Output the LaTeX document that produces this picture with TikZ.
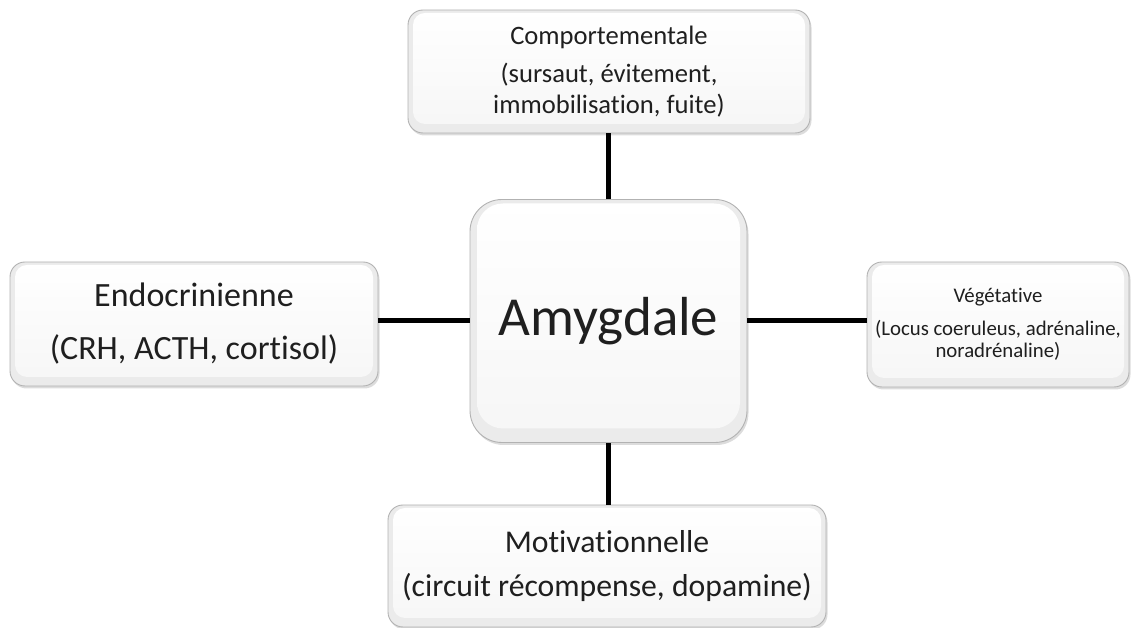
\documentclass[tikz,border=0pt]{standalone}
\usepackage{fontspec}
\setmainfont[Ligatures={NoCommon}]{Carlito}
\usetikzlibrary{shadows}
\begin{document}
\begin{tikzpicture}[x=1pt,y=1pt,
  boxbase/.style={draw=gray!60, line width=0.9pt, fill=gray!16, align=center, inner sep=0pt,
    text=black!88, drop shadow={opacity=0.28, shadow xshift=1.5pt, shadow yshift=-2.5pt}},
  smallbox/.style={boxbase, rounded corners=15pt,
    path picture={\shade[top color=white, middle color=white, bottom color=gray!7, rounded corners=12pt]
      ([shift={(5pt,-3pt)}]path picture bounding box.north west) rectangle
      ([shift={(-5pt,9pt)}]path picture bounding box.south east);}},
  bigbox/.style={boxbase, rounded corners=32pt,
    path picture={\shade[top color=white, middle color=white, bottom color=gray!7, rounded corners=26pt]
      ([shift={(7pt,-4pt)}]path picture bounding box.north west) rectangle
      ([shift={(-7pt,14pt)}]path picture bounding box.south east);}},
  conn/.style={line width=5pt, black}
]
\useasboundingbox (0,0) rectangle (1133,628);

\node[smallbox, minimum width=402pt, minimum height=123pt, font=\fontsize{26.6}{31}\selectfont]
  (comp) at (609,556.5) {Comportementale\\[7pt](sursaut, évitement,\\immobilisation, fuite)};

\node[bigbox, minimum width=277pt, minimum height=243pt, font=\fontsize{55}{60}\selectfont]
  (amyg) at (608.5,307) {\raisebox{-3pt}{Amygdale}};

\node[smallbox, minimum width=368pt, minimum height=124pt, font=\fontsize{34}{41}\selectfont]
  (endo) at (194,304) {\raisebox{-3pt}{Endocrinienne}\\[12pt]\raisebox{-3pt}{(CRH, ACTH, cortisol)}};

\node[smallbox, minimum width=262pt, minimum height=125pt, font=\fontsize{20.8}{22}\selectfont]
  (veg) at (998,303.5) {Végétative\\[11pt](Locus coeruleus, adrénaline,\\noradrénaline)};

\node[smallbox, minimum width=438pt, minimum height=122pt, font=\fontsize{31.7}{38.7}\selectfont]
  (moti) at (607,62) {Motivationnelle\\[6pt](circuit récompense, dopamine)};

\draw[conn] (amyg.north) -- (amyg.north |- comp.south);
\draw[conn] (amyg.south) -- (amyg.south |- moti.north);
\draw[conn] (amyg.west) -- (amyg.west -| endo.east);
\draw[conn] (amyg.east) -- (amyg.east -| veg.west);
\end{tikzpicture}
\end{document}
